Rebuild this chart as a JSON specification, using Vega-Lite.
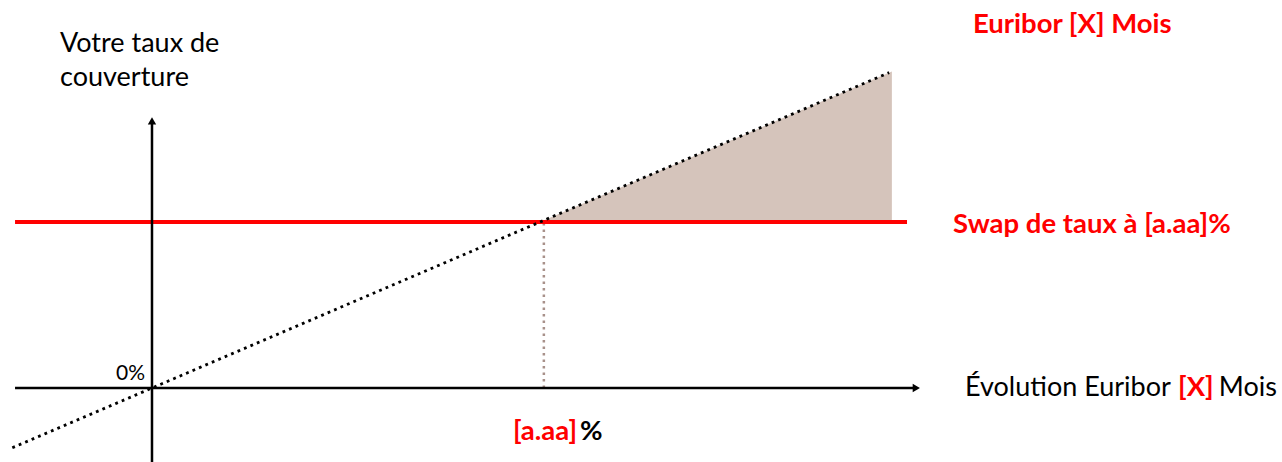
{
  "$schema": "https://vega.github.io/schema/vega-lite/v6.json",
  "width": 1282,
  "height": 462,
  "padding": 0,
  "autosize": {"type": "none"},
  "background": "white",
  "config": {"view": {"stroke": null}},
  "datasets": {
    "hedge": [
      {"euribor": 2.0, "upper": 2.0, "swap": 2.0},
      {"euribor": 3.814, "upper": 3.814, "swap": 2.0}
    ],
    "swapline": [{"from": -0.706, "to": 3.892, "rate": 2.0}],
    "axes": [
      {"axis": "x", "x1": -0.706, "x2": 3.93, "y1": 0, "y2": 0},
      {"axis": "y", "x1": 0, "x2": 0, "y1": -0.892, "y2": 3.21}
    ],
    "arrows": [
      {"axis": "x", "x": 3.94, "y": 0},
      {"axis": "y", "x": 0, "y": 3.22}
    ],
    "euribor": [
      {"euribor": -0.72, "coverage": -0.72},
      {"euribor": 3.80, "coverage": 3.80}
    ],
    "strike": [{"euribor": 2.02, "from": 0, "to": 2.0}],
    "plainLeft": [
      {"label": "Votre taux de", "x": -0.474, "y": 4.05},
      {"label": "couverture", "x": -0.474, "y": 3.64},
      {"label": "Évolution Euribor", "x": 4.191, "y": -0.096}
    ],
    "plainRight": [
      {"label": "Mois", "x": 5.799, "y": -0.096}
    ],
    "redLeft": [
      {"label": "Euribor [X] Mois", "x": 4.232, "y": 4.277},
      {"label": "Swap de taux à [a.aa]%", "x": 4.129, "y": 1.867},
      {"label": "[X]", "x": 5.289, "y": -0.096}
    ],
    "redRight": [
      {"label": "[a.aa]", "x": 2.191, "y": -0.627}
    ],
    "blackBold": [{"label": "%", "x": 2.206, "y": -0.627}],
    "zeroLabel": [{"label": "0%", "x": -0.036, "y": 0.096}]
  },
  "layer": [
    {
      "data": {"name": "hedge"},
      "mark": {"type": "area", "color": "#d5c4bb", "opacity": 1},
      "encoding": {
        "x": {"field": "euribor", "type": "quantitative", "scale": {"domain": [-0.7835, 5.825], "nice": false, "zero": false}, "axis": null},
        "y": {"field": "upper", "type": "quantitative", "scale": {"domain": [-0.8916, 4.675], "nice": false, "zero": false}, "axis": null},
        "y2": {"field": "swap"}
      }
    },
    {
      "data": {"name": "strike"},
      "mark": {"type": "rule", "color": "#a8918a", "strokeWidth": 2.5, "strokeDash": [2.5, 4]},
      "encoding": {
        "x": {"field": "euribor", "type": "quantitative"},
        "y": {"field": "from", "type": "quantitative"},
        "y2": {"field": "to"}
      }
    },
    {
      "data": {"name": "swapline"},
      "mark": {"type": "rule", "color": "#ff0000", "strokeWidth": 4},
      "encoding": {
        "x": {"field": "from", "type": "quantitative"},
        "x2": {"field": "to"},
        "y": {"field": "rate", "type": "quantitative"}
      }
    },
    {
      "data": {"name": "axes"},
      "mark": {"type": "rule", "color": "#000000", "strokeWidth": 2.5},
      "encoding": {
        "x": {"field": "x1", "type": "quantitative"},
        "x2": {"field": "x2"},
        "y": {"field": "y1", "type": "quantitative"},
        "y2": {"field": "y2"}
      }
    },
    {
      "data": {"name": "arrows"},
      "mark": {"type": "point", "filled": true, "color": "#000000", "opacity": 1, "size": 70},
      "encoding": {
        "x": {"field": "x", "type": "quantitative"},
        "y": {"field": "y", "type": "quantitative"},
        "shape": {"field": "axis", "type": "nominal", "scale": {"domain": ["x", "y"], "range": ["triangle-right", "triangle-up"]}, "legend": null}
      }
    },
    {
      "data": {"name": "euribor"},
      "mark": {"type": "line", "color": "#000000", "strokeWidth": 2.8, "strokeDash": [2.8, 4.2]},
      "encoding": {
        "x": {"field": "euribor", "type": "quantitative"},
        "y": {"field": "coverage", "type": "quantitative"}
      }
    },
    {
      "data": {"name": "plainLeft"},
      "mark": {"type": "text", "font": "Lato", "fontSize": 27, "align": "left", "baseline": "alphabetic", "color": "#000000"},
      "encoding": {
        "x": {"field": "x", "type": "quantitative"},
        "y": {"field": "y", "type": "quantitative"},
        "text": {"field": "label"}
      }
    },
    {
      "data": {"name": "plainRight"},
      "mark": {"type": "text", "font": "Lato", "fontSize": 27, "align": "right", "baseline": "alphabetic", "color": "#000000"},
      "encoding": {
        "x": {"field": "x", "type": "quantitative"},
        "y": {"field": "y", "type": "quantitative"},
        "text": {"field": "label"}
      }
    },
    {
      "data": {"name": "redLeft"},
      "mark": {"type": "text", "font": "Lato", "fontSize": 27.5, "fontWeight": "bold", "align": "left", "baseline": "alphabetic", "color": "#ff0000"},
      "encoding": {
        "x": {"field": "x", "type": "quantitative"},
        "y": {"field": "y", "type": "quantitative"},
        "text": {"field": "label"}
      }
    },
    {
      "data": {"name": "redRight"},
      "mark": {"type": "text", "font": "Lato", "fontSize": 27.5, "fontWeight": "bold", "align": "right", "baseline": "alphabetic", "color": "#ff0000"},
      "encoding": {
        "x": {"field": "x", "type": "quantitative"},
        "y": {"field": "y", "type": "quantitative"},
        "text": {"field": "label"}
      }
    },
    {
      "data": {"name": "blackBold"},
      "mark": {"type": "text", "font": "Lato", "fontSize": 27.5, "fontWeight": "bold", "align": "left", "baseline": "alphabetic", "color": "#000000"},
      "encoding": {
        "x": {"field": "x", "type": "quantitative"},
        "y": {"field": "y", "type": "quantitative"},
        "text": {"field": "label"}
      }
    },
    {
      "data": {"name": "zeroLabel"},
      "mark": {"type": "text", "font": "Lato", "fontSize": 21, "align": "right", "baseline": "alphabetic", "color": "#000000"},
      "encoding": {
        "x": {"field": "x", "type": "quantitative"},
        "y": {"field": "y", "type": "quantitative"},
        "text": {"field": "label"}
      }
    }
  ]
}
